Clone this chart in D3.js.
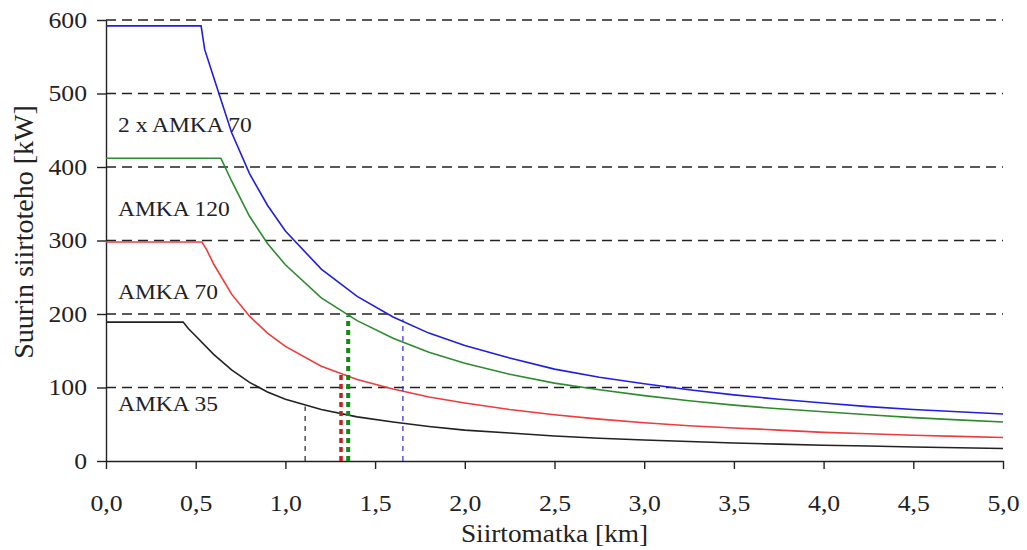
<!DOCTYPE html>
<html>
<head>
<meta charset="utf-8">
<script src="https://cdn.jsdelivr.net/npm/d3@7"></script>
<style>
  body { margin: 0; background: #fff; }
  svg text { font-family: "Liberation Serif", "Times New Roman", serif; fill: #222; }
</style>
</head>
<body>
<div id="chart"></div>
<script>
// Mitat
const width = 1027;
const height = 550;

// Kaapelikohtaiset käyrät [km, kW], luettu kuvasta
const amka35 = [[0, 189], [0.43, 189], [0.46, 180], [0.5, 170], [0.6, 145], [0.7, 124], [0.8, 107], [0.9, 94], [1.0, 84],
  [1.2, 70], [1.4, 60], [1.6, 53], [1.8, 47], [2.0, 42], [2.25, 38], [2.5, 34], [2.75, 31], [3.0, 28.5],
  [3.25, 26.5], [3.5, 24.5], [3.75, 23], [4.0, 21.5], [4.25, 20.5], [4.5, 19], [4.75, 18], [5.0, 17]];
const amka70 = [[0, 298], [0.535, 298], [0.56, 288], [0.6, 268], [0.7, 227], [0.8, 197], [0.9, 174], [1.0, 156],
  [1.2, 129], [1.4, 111], [1.6, 98], [1.8, 87], [2.0, 79], [2.25, 70], [2.5, 63], [2.75, 57], [3.0, 52],
  [3.25, 48], [3.5, 45], [3.75, 42], [4.0, 39], [4.25, 37], [4.5, 35], [4.75, 33.5], [5.0, 32]];
const amka120 = [[0, 412], [0.64, 412], [0.66, 402], [0.7, 381], [0.8, 333], [0.9, 296], [1.0, 267],
  [1.2, 222], [1.4, 191], [1.6, 167], [1.8, 148], [2.0, 133], [2.25, 118], [2.5, 106], [2.75, 97], [3.0, 89],
  [3.25, 82], [3.5, 76], [3.75, 71], [4.0, 67], [4.25, 63], [4.5, 59], [4.75, 56], [5.0, 53]];
const amka70x2 = [[0, 592], [0.53, 592], [0.55, 560], [0.6, 522], [0.7, 447], [0.8, 391], [0.9, 348], [1.0, 313],
  [1.2, 261], [1.4, 224], [1.6, 196], [1.8, 174], [2.0, 157], [2.25, 140], [2.5, 125], [2.75, 114], [3.0, 105],
  [3.25, 97], [3.5, 90], [3.75, 84], [4.0, 79], [4.25, 74], [4.5, 70], [4.75, 67], [5.0, 64]];

const seriesData = [amka35, amka70, amka120, amka70x2];
const seriesColors = ["#222222", "#ee3b3b", "#2e8b2e", "#1f1fe0"];
const seriesNames = ["AMKA 35", "AMKA 70", "AMKA 120", "2 x AMKA 70"];
const labelValues = [68, 220, 333, 448];   // nimien sijainti kW-asteikolla

// Pystyviivat (siirtomatka, teho käyrällä)
const markerKm = [1.11, 1.31, 1.35, 1.655];
const markerKw = [74, 118, 198, 193];
const markerColors = ["#222222", "#c0221a", "#128a12", "#2a2ad0"];
const markerWidths = [1.2, 3.5, 4, 1.2];
const markerDash = ["5,5", "5,4", "5,4", "5,5"];

const xTicks = [0, 0.5, 1, 1.5, 2, 2.5, 3, 3.5, 4, 4.5, 5];
const yTicks = [0, 100, 200, 300, 400, 500, 600];

const svg = d3.select("#chart").append("svg")
    .attr("width", width)
    .attr("height", height);

const x = d3.scaleLinear().domain([0, 5]).range([106, 1003]);
const y = d3.scaleLinear().domain([0, 600]).range([461, 20]);

const fmt = d => d3.format(".1f")(d).replace(".", ",");

// Vaakasuorat katkoviivat
svg.append("g").selectAll("line")
    .data(yTicks.filter(d => d > 0))
    .enter().append("line")
    .attr("x1", x(0)).attr("x2", x(5))
    .attr("y1", d => y(d)).attr("y2", d => y(d))
    .attr("stroke", "#222")
    .attr("stroke-width", 1.3)
    .attr("stroke-dasharray", "10,6");

// Akselit
const xAxis = svg.append("g")
    .attr("transform", `translate(0,${y(0)})`)
    .call(d3.axisBottom(x).tickValues(xTicks).tickFormat(fmt).tickSize(8).tickSizeOuter(0));
xAxis.selectAll("text")
    .attr("y", 0).attr("dy", 0)
    .attr("transform", "translate(0,50) scale(1.12,1)")
    .style("font-size", "23px");

const yAxis = svg.append("g")
    .attr("transform", `translate(${x(0)},0)`)
    .call(d3.axisLeft(y).tickValues(yTicks).tickSize(9).tickSizeOuter(0));
yAxis.selectAll("text")
    .attr("x", 0)
    .attr("transform", "translate(-19,0) scale(1.12,1)")
    .style("font-size", "23px");

svg.selectAll(".domain, .tick line").attr("stroke", "#222").attr("stroke-width", 1.4);

// Käyrät
const line = d3.line().x(d => x(d[0])).y(d => y(d[1]));
svg.append("g").selectAll("path")
    .data(seriesData)
    .enter().append("path")
    .attr("d", line)
    .attr("fill", "none")
    .attr("stroke", (d, i) => seriesColors[i])
    .attr("stroke-width", 1.6);

// Pystyviivat
svg.append("g").selectAll("line")
    .data(markerKm)
    .enter().append("line")
    .attr("x1", d => x(d)).attr("x2", d => x(d))
    .attr("y1", y(0)).attr("y2", (d, i) => y(markerKw[i]))
    .attr("stroke", (d, i) => markerColors[i])
    .attr("stroke-width", (d, i) => markerWidths[i])
    .attr("stroke-dasharray", (d, i) => markerDash[i]);

// Käyrien nimet
svg.append("g").selectAll("text")
    .data(seriesNames)
    .enter().append("text")
    .attr("transform", (d, i) => `translate(118,${y(labelValues[i])}) scale(1.12,1)`)
    .style("font-size", "21px")
    .text(d => d);

// Akselien otsikot
svg.append("text")
    .attr("transform", `translate(${(x(0) + x(5)) / 2},542) scale(1.05,1)`)
    .attr("text-anchor", "middle")
    .style("font-size", "26px")
    .text("Siirtomatka [km]");

svg.append("text")
    .attr("transform", "translate(33,232) rotate(-90)")
    .attr("text-anchor", "middle")
    .style("font-size", "28px")
    .text("Suurin siirtoteho [kW]");
</script>
</body>
</html>
